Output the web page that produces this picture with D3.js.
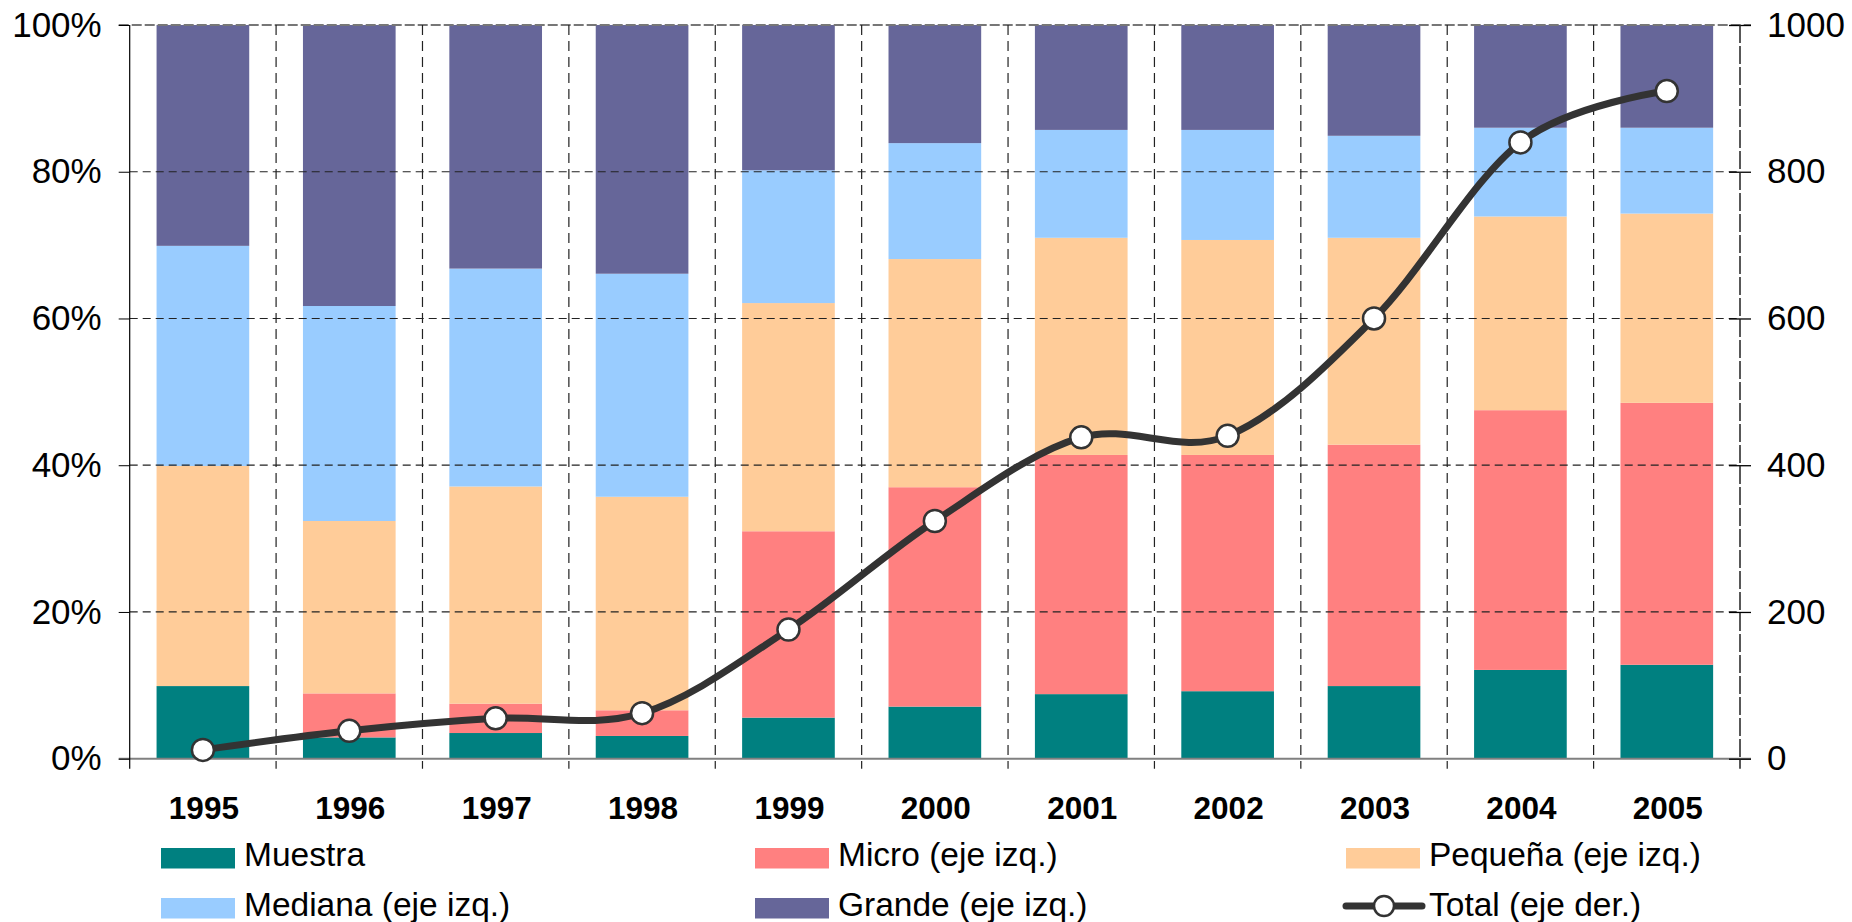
<!DOCTYPE html>
<html>
<head>
<meta charset="utf-8">
<script src="https://cdn.jsdelivr.net/npm/d3@7"></script>
<style>
  body { margin: 0; background: #fff; }
  svg { display: block; font-family: "Liberation Sans", Arial, sans-serif; }
</style>
</head>
<body>
<div id="chart"></div>
<script>
// categories
const years = ["1995", "1996", "1997", "1998", "1999", "2000", "2001", "2002", "2003", "2004", "2005"];
// segment shares (%), left axis
const muestra = [9.9, 2.9, 3.5, 3.1, 5.6, 7.1, 8.8, 9.2, 9.9, 12.1, 12.8];
const micro   = [0, 6.0, 4.0, 3.5, 25.4, 29.9, 32.6, 32.2, 32.9, 35.4, 35.7];
const pequena = [30.0, 23.5, 29.6, 29.1, 31.1, 31.1, 29.6, 29.3, 28.2, 26.4, 25.8];
const mediana = [30.0, 29.3, 29.7, 30.4, 18.1, 15.8, 14.7, 15.0, 13.9, 12.1, 11.7];
const grande  = [30.1, 38.3, 33.2, 33.9, 19.8, 16.1, 14.3, 14.3, 15.1, 14.0, 14.0];
// total, right axis
const total = [12, 38, 55, 62, 176, 324, 438, 440, 600, 840, 910];
// tick labels
const leftTicks = [0, 0.2, 0.4, 0.6, 0.8, 1];
const rightTicks = [0, 200, 400, 600, 800, 1000];
// series
const keys = ["muestra", "micro", "pequena", "mediana", "grande"];
const labels = ["Muestra", "Micro (eje izq.)", "Pequeña (eje izq.)", "Mediana (eje izq.)", "Grande (eje izq.)"];
const colors = ["#008080", "#FF8080", "#FFCC99", "#99CCFF", "#666699"];
const lineLabel = "Total (eje der.)";

const W = 1852, H = 922;
const x0 = 129.7, x1 = 1740, yTop = 25, yBot = 758.7;

const svg = d3.select("#chart").append("svg")
    .attr("width", W).attr("height", H);

const x = d3.scaleBand().domain(years).range([x0, x1])
    .paddingInner(0.367).paddingOuter(0.367 / 2);
const y = d3.scaleLinear().domain([0, 1]).range([yBot, yTop]);
const y2 = d3.scaleLinear().domain([0, 1000]).range([yBot, yTop]);

// table for the stack
const table = years.map((yr, i) => ({
    year: yr,
    muestra: muestra[i] / 100, micro: micro[i] / 100, pequena: pequena[i] / 100,
    mediana: mediana[i] / 100, grande: grande[i] / 100
}));
const stacked = d3.stack().keys(keys)(table);

// bars
svg.append("g").selectAll("g")
    .data(stacked).enter().append("g")
    .attr("fill", (d, i) => colors[i])
    .selectAll("rect")
    .data(d => d).enter().append("rect")
    .attr("x", d => x(d.data.year))
    .attr("width", x.bandwidth())
    .attr("y", d => y(d[1]))
    .attr("height", d => y(d[0]) - y(d[1]));

// horizontal gridlines
svg.append("g").selectAll("line")
    .data(leftTicks.filter(t => t > 0 && t < 1)).enter().append("line")
    .attr("x1", x0).attr("x2", x1)
    .attr("y1", d => y(d)).attr("y2", d => y(d))
    .attr("stroke", "#222").attr("stroke-width", 1.2)
    .attr("stroke-dasharray", "8,5");
svg.append("line")
    .attr("x1", x0 - 11).attr("x2", x1 + 11)
    .attr("y1", y(1)).attr("y2", y(1))
    .attr("stroke", "#777").attr("stroke-width", 2)
    .attr("stroke-dasharray", "10,3");

// vertical gridlines at category boundaries
const step = x.step();
svg.append("g").selectAll("line")
    .data(d3.range(1, years.length)).enter().append("line")
    .attr("x1", d => x0 + d * step).attr("x2", d => x0 + d * step)
    .attr("y1", yTop).attr("y2", yBot + 10)
    .attr("stroke", "#222").attr("stroke-width", 1.2)
    .attr("stroke-dasharray", "10,6");

// zero line
svg.append("line")
    .attr("x1", x0 - 11).attr("x2", x1 + 11)
    .attr("y1", yBot).attr("y2", yBot)
    .attr("stroke", "#808080").attr("stroke-width", 2);

// left axis
const leftAxis = svg.append("g")
    .attr("transform", `translate(${x0},0)`)
    .call(d3.axisLeft(y).tickValues(leftTicks).tickFormat(d3.format(".0%"))
        .tickSize(11).tickPadding(17).tickSizeOuter(0));
leftAxis.select(".domain").remove();
leftAxis.selectAll(".tick line").attr("stroke", "#000");
leftAxis.selectAll("text").attr("font-size", 35).attr("fill", "#000")
    .attr("font-family", "Liberation Sans, Arial, sans-serif");
svg.append("line")
    .attr("x1", x0).attr("x2", x0).attr("y1", yTop).attr("y2", yBot + 10)
    .attr("stroke", "#000").attr("stroke-width", 1.2);

// right axis
const rightAxis = svg.append("g")
    .attr("transform", `translate(${x1},0)`)
    .call(d3.axisRight(y2).tickValues(rightTicks).tickFormat(d3.format("d"))
        .tickSize(11).tickPadding(16).tickSizeOuter(0));
rightAxis.select(".domain").remove();
rightAxis.selectAll(".tick line").attr("x1", -11).attr("stroke", "#000").attr("stroke-width", 1.3);
rightAxis.selectAll("text").attr("font-size", 35).attr("fill", "#000")
    .attr("font-family", "Liberation Sans, Arial, sans-serif");
svg.append("line")
    .attr("x1", x1).attr("x2", x1).attr("y1", yTop).attr("y2", yBot + 10)
    .attr("stroke", "#222").attr("stroke-width", 1.5)
    .attr("stroke-dasharray", "18,3");

// year labels
svg.append("g").selectAll("text")
    .data(years).enter().append("text")
    .attr("x", d => x(d) + x.bandwidth() / 2 + 1)
    .attr("y", 819)
    .attr("text-anchor", "middle")
    .attr("font-size", 31.5).attr("font-weight", "bold")
    .text(d => d);

// total line
const line = d3.line()
    .x((d, i) => x(years[i]) + x.bandwidth() / 2)
    .y(d => y2(d))
    .curve(d3.curveCardinal);
svg.append("path")
    .datum(total)
    .attr("d", line)
    .attr("fill", "none")
    .attr("stroke", "#333")
    .attr("stroke-width", 7)
    .attr("stroke-linejoin", "round");
svg.append("g").selectAll("circle")
    .data(total).enter().append("circle")
    .attr("cx", (d, i) => x(years[i]) + x.bandwidth() / 2)
    .attr("cy", d => y2(d))
    .attr("r", 11)
    .attr("fill", "#fff")
    .attr("stroke", "#333").attr("stroke-width", 2.5);

// legend
const legCols = [161, 755, 1346];
const legRows = [848, 898];
const legend = svg.append("g").attr("font-size", 33.5);
const order = [0, 1, 2, 3, 4];
order.forEach((k, j) => {
    const cx = legCols[j % 3], ry = legRows[Math.floor(j / 3)];
    legend.append("rect")
        .attr("x", cx).attr("y", ry).attr("width", 74).attr("height", 20.5)
        .attr("fill", colors[k]);
    legend.append("text")
        .attr("x", cx + 83).attr("y", ry + 18)
        .text(labels[k]);
});
const lx = legCols[2], ly = legRows[1] + 8;
legend.append("line")
    .attr("x1", lx).attr("x2", lx + 76).attr("y1", ly).attr("y2", ly)
    .attr("stroke", "#333").attr("stroke-width", 7).attr("stroke-linecap", "round");
legend.append("circle")
    .attr("cx", lx + 38).attr("cy", ly).attr("r", 10)
    .attr("fill", "#fff").attr("stroke", "#333").attr("stroke-width", 2.5);
legend.append("text")
    .attr("x", lx + 83).attr("y", legRows[1] + 18)
    .text(lineLabel);
</script>
</body>
</html>
